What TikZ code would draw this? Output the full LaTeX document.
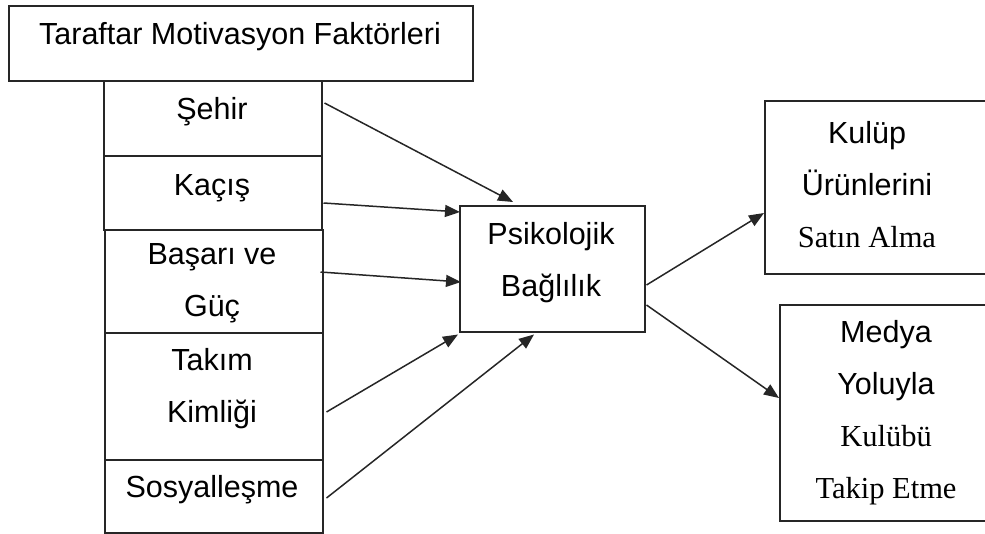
\documentclass[tikz,border=0pt]{standalone}
\usepackage{fontspec}
\setmainfont{Liberation Sans}
\newfontfamily\serifface{Liberation Serif}
\usetikzlibrary{arrows.meta,calc}
\tikzset{
  box/.style={draw=black!85, line width=1.5pt, rectangle, inner sep=0pt, anchor=north west},
  txt/.style={inner sep=0pt, align=center, font=\fontsize{30.5}{52}\selectfont},
  conn/.style={draw=black!85, line width=1.5pt, -{Triangle[length=15pt,width=12pt]}}
}
\begin{document}
\begin{tikzpicture}[x=1pt,y=-1pt]
\useasboundingbox (0,0) rectangle (985,533);
\clip (0,0) rectangle (985,533);
% boxes
\node[box, minimum width=464pt, minimum height=75pt] (top) at (8,5) {};
\node[box, minimum width=218pt, minimum height=75pt] (sehir) at (103,80) {};
\node[box, minimum width=218pt, minimum height=74pt] (kacis) at (103,155) {};
\node[box, minimum width=218pt, minimum height=103pt] (basari) at (104,229) {};
\node[box, minimum width=218pt, minimum height=127pt] (takim) at (104,332) {};
\node[box, minimum width=218pt, minimum height=73pt] (sosyal) at (104,459) {};
\node[box, minimum width=185pt, minimum height=126pt] (psiko) at (459,205) {};
\node[box, minimum width=240pt, minimum height=173pt] (kulup) at (764,100) {};
\node[box, minimum width=240pt, minimum height=216pt] (medya) at (779,304) {};
% texts
\node[txt] (ttop) at (240,37) {Taraftar Motivasyon Faktörleri};
\node[txt] (tsehir) at (212,112) {Şehir};
\node[txt] (tkacis) at (212,188) {Kaçış};
\node[txt] (tbasari) at (212,283) {Başarı ve\\Güç};
\node[txt] (ttakim) at (212,389) {Takım\\Kimliği};
\node[txt] (tsosyal) at (212,490) {Sosyalleşme};
\node[txt] (tpsiko) at (551,263) {Psikolojik\\Bağlılık};
\node[txt] (tkulup) at (867,185) {Kulüp\\Ürünlerini\\{\serifface Satın Alma}};
\node[txt] (tmedya) at (886,413) {Medya\\Yoluyla\\{\serifface Kulübü}\\{\serifface Takip Etme}};
% connectors
\draw[conn] ($(sehir.north east)+(2,23)$) -- ($(psiko.north west)+(54,-3)$);
\draw[conn] ($(kacis.north east)+(1,48)$) -- ($(psiko.north west)+(1,7)$);
\draw[conn] ($(basari.north east)+(-3,43)$) -- ($(psiko.north west)+(2,77)$);
\draw[conn] ($(takim.north east)+(3,80)$) -- ($(psiko.south west)+(-1,2)$);
\draw[conn] ($(sosyal.north east)+(3,39)$) -- ($(psiko.south west)+(75,2)$);
\draw[conn] ($(psiko.north east)+(1,80)$) -- ($(kulup.north west)+(0,113)$);
\draw[conn] ($(psiko.north east)+(1,100)$) -- ($(medya.north west)+(0,94)$);
\end{tikzpicture}
\end{document}
